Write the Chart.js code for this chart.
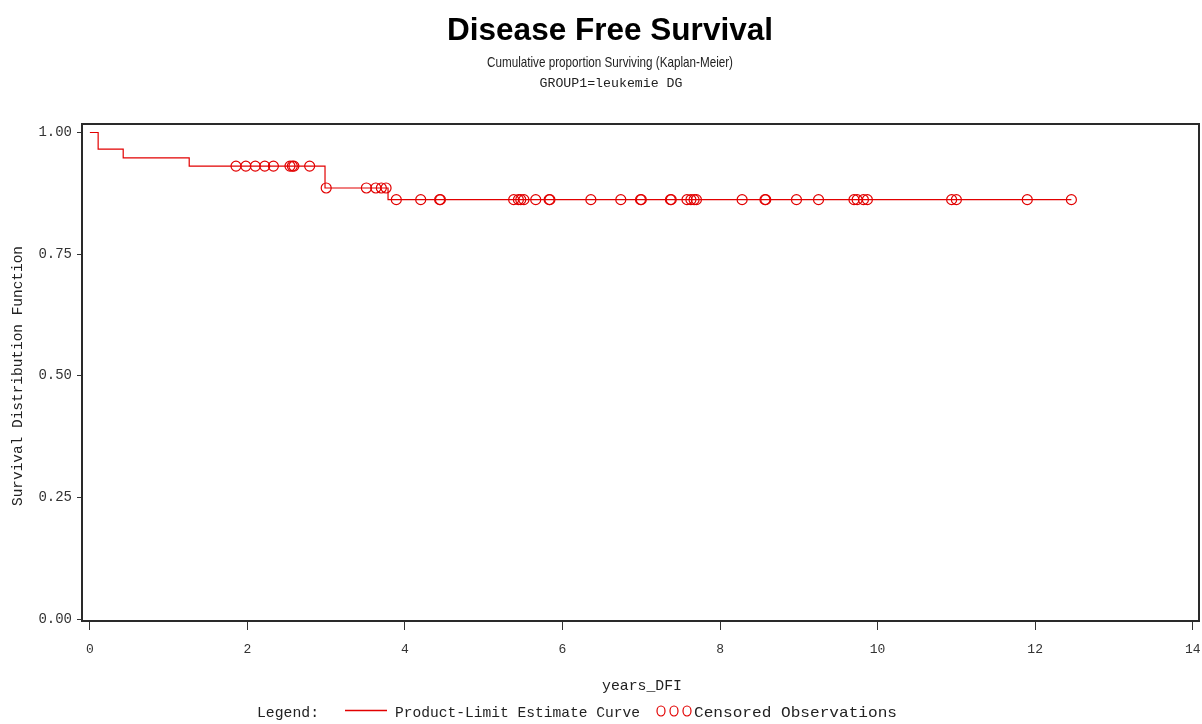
<!DOCTYPE html>
<html><head><meta charset="utf-8">
<script src="https://cdn.jsdelivr.net/npm/chart.js@4/dist/chart.umd.min.js"></script>
<style>html,body{margin:0;padding:0;background:#fff}#wrap{width:1202px;height:724px;position:relative}</style>
</head><body><div id="wrap"><canvas id="c" width="1202" height="724"></canvas></div>
<script>
// ---- data ----
const stepTimes    = [0, 0.105, 0.423, 1.261, 2.985, 3.785, 12.46];
const stepSurvival = [1.0, 0.966, 0.948, 0.931, 0.886, 0.862, 0.862];
const censoredTimes = [1.855, 1.98, 2.10, 2.22, 2.33, 2.54, 2.57, 2.59, 2.79, 3.00,
  3.51, 3.63, 3.70, 3.76, 3.89, 4.20, 4.44, 4.45, 5.38, 5.44, 5.47, 5.51, 5.66, 5.83, 5.84,
  6.36, 6.74, 6.99, 7.00, 7.37, 7.38, 7.58, 7.63, 7.67, 7.70, 8.28, 8.57, 8.58, 8.97, 9.25,
  9.70, 9.74, 9.82, 9.87, 10.94, 11.00, 11.90, 12.46];
const xTicks = [0, 2, 4, 6, 8, 10, 12, 14];
const yTicks = [0, 0.25, 0.5, 0.75, 1.0];
const yTickLabels = ['0.00', '0.25', '0.50', '0.75', '1.00'];
const titleText = 'Disease Free Survival';
const subtitleText = 'Cumulative proportion Surviving (Kaplan-Meier)';
const groupText = 'GROUP1=leukemie DG';
const xTitle = 'years_DFI';
const yTitle = 'Survival Distribution Function';
const curveLabel = 'Product-Limit Estimate Curve';
const censLabel = 'Censored Observations';

const RED = 'rgb(226,0,0)';
function levelAt(t) {
  let v = stepSurvival[0];
  for (let i = 0; i < stepTimes.length; i++) if (stepTimes[i] <= t) v = stepSurvival[i];
  return v;
}

function drawFit(ctx, text, x, y, width, font, align) {
  ctx.save();
  ctx.font = font;
  const w = ctx.measureText(text).width;
  const sx = width / w;
  ctx.textBaseline = 'middle';
  ctx.textAlign = 'left';
  let left = align === 'center' ? x - width / 2 : x;
  ctx.translate(left, y);
  ctx.scale(sx, 1);
  ctx.fillText(text, 0, 0);
  ctx.restore();
}

const decor = {
  id: 'decor',
  afterDatasetsDraw(chart) {
    const ctx = chart.ctx, a = chart.chartArea;
    ctx.save();
    ctx.strokeStyle = '#2a2a2a';
    ctx.lineWidth = 2;
    ctx.strokeRect(a.left, a.top, a.right - a.left, a.bottom - a.top);
    ctx.restore();
  },
  afterDraw(chart) {
    const ctx = chart.ctx;
    ctx.save();
    ctx.fillStyle = '#000';
    drawFit(ctx, titleText, 610, 31, 326, 'bold 32px "Liberation Sans"', 'center');
    ctx.fillStyle = '#222';
    drawFit(ctx, subtitleText, 610, 63, 246, '15px "Liberation Sans"', 'center');
    drawFit(ctx, groupText, 611, 84, 143, '12px "Liberation Mono"', 'center');
    // y title
    ctx.save();
    ctx.translate(18, 376);
    ctx.rotate(-Math.PI / 2);
    drawFit(ctx, yTitle, 0, 0, 260, '14px "Liberation Mono"', 'center');
    ctx.restore();
    // x title
    drawFit(ctx, xTitle, 642, 686, 80, '15px "Liberation Mono"', 'center');
    // legend
    const lf = '15px "Liberation Mono"';
    drawFit(ctx, 'Legend:', 257, 713, 62, lf, 'left');
    ctx.strokeStyle = RED; ctx.lineWidth = 1.5;
    ctx.beginPath(); ctx.moveTo(345, 710.5); ctx.lineTo(387, 710.5); ctx.stroke();
    drawFit(ctx, curveLabel, 395, 713, 245, lf, 'left');
    ctx.lineWidth = 1.2;
    [661, 674, 687].forEach(cx => { ctx.beginPath(); ctx.ellipse(cx, 711, 4, 5, 0, 0, Math.PI * 2); ctx.stroke(); });
    drawFit(ctx, censLabel, 694, 713, 203, lf, 'left');
    ctx.restore();
  }
};

new Chart(document.getElementById('c'), {
  type: 'line',
  data: {
    datasets: [
      {
        label: curveLabel,
        data: stepTimes.map((t, i) => ({ x: t, y: stepSurvival[i] })),
        stepped: true,
        borderColor: RED,
        borderWidth: 1.2,
        pointRadius: 0,
        fill: false
      },
      {
        label: censLabel,
        data: censoredTimes.map(t => ({ x: t, y: levelAt(t) })),
        showLine: false,
        pointStyle: 'circle',
        pointRadius: 5,
        pointBorderColor: RED,
        pointBackgroundColor: 'rgba(0,0,0,0)',
        pointBorderWidth: 1.2
      }
    ]
  },
  options: {
    responsive: false,
    animation: false,
    devicePixelRatio: 1,
    layout: { autoPadding: false, padding: { left: 0, top: 124, right: 3, bottom: 0 } },
    plugins: { legend: { display: false }, title: { display: false }, tooltip: { enabled: false } },
    scales: {
      x: {
        type: 'linear', min: -0.1, max: 14.08,
        afterBuildTicks: s => { s.ticks = xTicks.map(v => ({ value: v })); },
        afterFit: s => { s.height = 103; s.paddingLeft = 0; s.paddingRight = 0; },
        ticks: { font: { family: 'Liberation Mono', size: 13 }, color: '#333', padding: 12, maxRotation: 0, autoSkip: false, callback: v => String(v) },
        grid: { drawOnChartArea: false, drawTicks: true, tickLength: 9, color: '#333', tickWidth: 1 },
        border: { display: false }
      },
      y: {
        type: 'linear', min: -0.004, max: 1.0175,
        afterBuildTicks: s => { s.ticks = yTicks.map(v => ({ value: v })); },
        afterFit: s => { s.width = 82; s.paddingTop = 0; s.paddingBottom = 0; },
        ticks: { font: { family: 'Liberation Mono', size: 14 }, color: '#333', padding: 5, autoSkip: false, callback: v => yTickLabels[yTicks.indexOf(v)] },
        grid: { drawOnChartArea: false, drawTicks: true, tickLength: 5, color: '#333', tickWidth: 1 },
        border: { display: false }
      }
    }
  },
  plugins: [decor]
});
</script>
</body></html>
